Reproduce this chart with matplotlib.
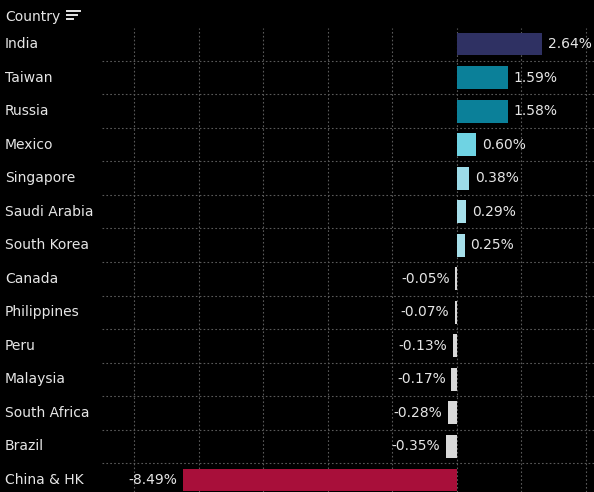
import numpy as np
import matplotlib.pyplot as plt
from matplotlib.transforms import blended_transform_factory
from matplotlib.lines import Line2D

# ── data ──────────────────────────────────────────────────────────────
countries = ['India', 'Taiwan', 'Russia', 'Mexico', 'Singapore', 'Saudi Arabia',
             'South Korea', 'Canada', 'Philippines', 'Peru', 'Malaysia',
             'South Africa', 'Brazil', 'China & HK']
values = [2.64, 1.59, 1.58, 0.60, 0.38, 0.29, 0.25,
          -0.05, -0.07, -0.13, -0.17, -0.28, -0.35, -8.49]
colors = ['#2f3163', '#0b8099', '#0b8099', '#6fd3e3', '#9cdbe8', '#a6dfea',
          '#a6dfea', '#d8d8d8', '#d8d8d8', '#d8d8d8', '#d8d8d8', '#dadada',
          '#dadada', '#a80f3a']

BG = '#000000'
TXT = '#e6e6e6'

fig = plt.figure(figsize=(5.94, 4.92), dpi=100, facecolor=BG)
W, H = 594, 492
ax = fig.add_axes([102 / W, 0, 1 - 102 / W, 1 - 28 / H])
ax.set_facecolor(BG)

y = np.arange(len(countries))
ax.barh(y, values, height=0.68, color=colors, zorder=3)

ax.set_xlim(-11.0, 4.25)
ax.set_ylim(13.36, -0.48)

# grid
for gx in np.arange(-10, 5, 2):
    ax.axvline(gx, color='#5a5a5a', lw=0.8, ls=(0, (1.5, 2)), zorder=1)
for gy in np.arange(0.5, len(countries) - 0.5, 1):
    ax.axhline(gy, color='#5a5a5a', lw=0.8, ls=(0, (1.5, 2)), zorder=1)

for s in ax.spines.values():
    s.set_visible(False)
ax.set_xticks([])
ax.set_yticks([])

# value labels
for yi, v in zip(y, values):
    lab = f'{v:.2f}%'
    if v >= 0:
        ax.annotate(lab, (v, yi), xytext=(4, 0), textcoords='offset points',
                    ha='left', va='center', color=TXT, fontsize=10)
    else:
        ax.annotate(lab, (v, yi), xytext=(-4, 0), textcoords='offset points',
                    ha='right', va='center', color=TXT, fontsize=10)

# category labels
tr = blended_transform_factory(fig.transFigure, ax.transData)
for yi, c in zip(y, countries):
    ax.text(5 / W, yi, c, transform=tr, ha='left', va='center',
            color=TXT, fontsize=10, clip_on=False)

# header
fig.text(5 / W, 1 - 17 / H, 'Country', ha='left', va='center', color=TXT, fontsize=10)
# sort icon
for i, (x0, x1) in enumerate([(67, 80), (67, 77), (67, 73)]):
    yy = 1 - (11 + i * 4) / H
    fig.add_artist(Line2D([x0 / W, x1 / W], [yy, yy], color=TXT, lw=1.4))

fig.savefig('out.png', dpi=100, facecolor=BG)
